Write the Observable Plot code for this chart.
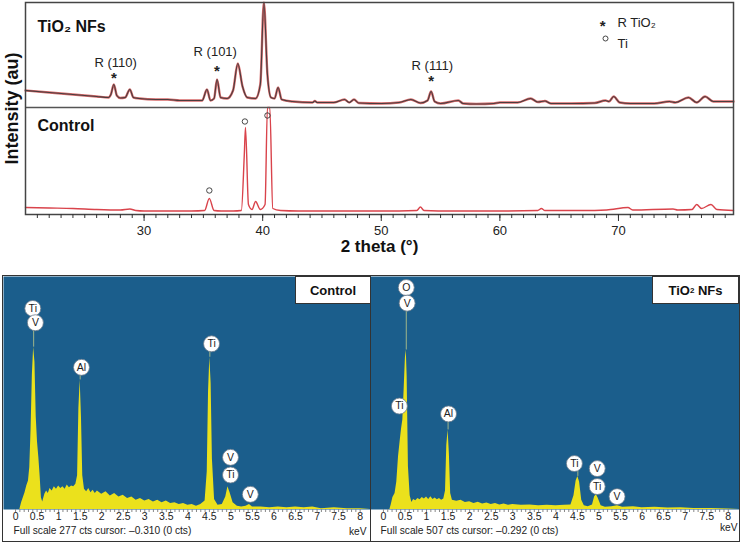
<!DOCTYPE html>
<html><head><meta charset="utf-8">
<script src="https://cdn.jsdelivr.net/npm/d3@7"></script>
<script src="https://cdn.jsdelivr.net/npm/@observablehq/plot@0.6"></script>
<style>
body{margin:0;background:#fff;font-family:"Liberation Sans",Arial,sans-serif;}
#wrap{position:relative;width:740px;height:543px;overflow:hidden;background:#fff;}
.box{position:absolute;background:#fff;border:1px solid #333;box-sizing:border-box;font-weight:bold;font-size:13px;display:flex;align-items:center;justify-content:center;color:#111;white-space:pre;}
.border{position:absolute;border:1.5px solid #333;box-sizing:border-box;pointer-events:none;}
sub{font-size:8px;vertical-align:-2px;}
</style></head><body><div id="wrap"></div>
<script>
// ---------- XRD data (2θ in degrees, intensity in arbitrary units) ----------
const xrdTiO2 = [[20,124],[22,122],[24,120],[26,118],[27.0,117],[27.2,120],[27.45,130],[27.7,119],[28.0,116.5],[28.4,117],[28.8,125],[29.1,117],[29.6,116],[31,115],[32,115],[33,114],[34,114],[34.9,114],[35.3,125],[35.6,114],[35.9,116],[36.15,135],[36.45,117],[37.0,116],[37.5,124],[37.9,151],[38.3,128],[38.7,117],[39.4,116],[39.8,130],[40.1,212],[40.4,140],[40.7,117],[41.0,116],[41.3,127],[41.6,115],[42.5,113],[44.2,112],[44.4,113.5],[44.6,112],[46,112],[46.9,115],[47.3,112],[47.7,115],[48.1,111.5],[50,111],[51.5,112],[52.5,115],[53.3,111.5],[53.9,114],[54.2,123],[54.5,113],[55,111],[56.5,114],[56.9,111],[58,110.5],[59.5,111],[60,112],[61.5,112],[62.6,116],[63.2,112.5],[63.8,113.5],[64.3,111],[66,111],[68,111.5],[68.9,114],[69.2,113],[69.6,118],[70.1,112],[71,111],[73,111],[74.3,113],[74.8,112],[75.9,117],[76.6,112],[77.3,118],[78,113],[79,113],[79.7,113]];
const xrdControl = [[20,7],[22,6.5],[24,6],[26,5],[28,4.5],[28.8,5.5],[29.3,4],[30,3.5],[32,3.5],[34,3.5],[35.1,4],[35.5,16],[35.9,4],[36.5,3.5],[37.5,3.5],[38.2,4],[38.45,60],[38.55,87],[38.8,10],[39.1,5],[39.4,13],[39.8,5],[40.2,10],[40.4,107],[40.6,107],[40.85,6],[41.5,4],[43,3.5],[45,3.5],[50,3.5],[53.0,4],[53.3,7.5],[53.6,4],[56,3.5],[60,3.5],[63.2,4],[63.5,6],[63.8,4],[67,4],[69,4.5],[70.8,7],[71.2,4.5],[74.6,5.5],[75,4.5],[76.2,5],[76.6,10],[77.0,6],[77.8,10],[78.3,5],[79.7,4]];
const xrdPeakLabels = [["R (110)",27.6,152],["R (101)",36.0,163],["R (111)",54.3,149]];
const xrdStars = [[27.45,136],[36.15,143],[54.2,133]];
const xrdTiCircles = [[35.5,24],[38.5,93],[40.4,99]];
const xrdTicks = [30,40,50,60,70];
const xrdPanelSplit = 107;

// ---------- EDS data (keV, counts) ----------
const edsControl = [[-0.28,0],[0.10,0],[0.14,8],[0.18,14],[0.22,20],[0.26,28],[0.30,34],[0.33,50],[0.36,95],[0.39,160],[0.42,193],[0.45,175],[0.48,110],[0.51,80],[0.54,62],[0.57,40],[0.60,14],[0.63,9],[0.68,18],[0.72,22],[0.76,19],[0.80,25],[0.85,22],[0.90,27],[0.95,24],[1.00,28],[1.05,25],[1.10,27],[1.15,24],[1.20,29],[1.25,26],[1.30,28],[1.35,27],[1.40,30],[1.44,40],[1.47,120],[1.50,154],[1.53,110],[1.56,40],[1.60,24],[1.65,21],[1.70,25],[1.75,20],[1.80,23],[1.85,19],[1.90,22],[2.00,18],[2.10,21],[2.20,16],[2.30,19],[2.40,15],[2.50,17],[2.60,13],[2.70,15],[2.80,11],[2.90,13],[3.00,10],[3.10,12],[3.20,9],[3.30,11],[3.40,8],[3.50,10],[3.60,7],[3.70,8],[3.80,6],[3.90,7],[4.00,5],[4.10,6],[4.20,4],[4.30,6],[4.40,10],[4.45,45],[4.48,140],[4.51,181],[4.54,150],[4.57,60],[4.62,12],[4.70,5],[4.80,6],[4.88,15],[4.93,27],[4.98,20],[5.05,8],[5.15,4],[5.25,3],[5.35,4],[5.43,6],[5.50,3],[5.70,3],[5.90,2],[6.10,3],[6.30,2],[6.50,3],[6.70,2],[6.90,3],[7.10,1],[7.40,2],[7.70,1],[8.00,1],[8.24,0]];
const edsTiO2 = [[-0.30,0],[0.15,0],[0.18,10],[0.22,26],[0.27,35],[0.31,60],[0.35,115],[0.39,150],[0.42,175],[0.45,195],[0.48,260],[0.51,330],[0.53,347],[0.55,290],[0.58,93],[0.62,30],[0.66,15],[0.70,22],[0.75,19],[0.80,24],[0.85,21],[0.90,26],[0.95,23],[1.00,27],[1.05,22],[1.10,28],[1.15,22],[1.20,25],[1.25,21],[1.30,24],[1.35,20],[1.40,23],[1.44,40],[1.47,140],[1.50,173],[1.53,120],[1.56,35],[1.60,20],[1.70,18],[1.80,20],[1.90,15],[2.00,17],[2.10,13],[2.20,16],[2.30,12],[2.40,14],[2.50,11],[2.60,13],[2.70,10],[2.80,12],[2.90,9],[3.00,11],[3.20,9],[3.40,10],[3.60,8],[3.80,9],[4.00,8],[4.20,9],[4.35,10],[4.42,30],[4.47,62],[4.51,72],[4.55,60],[4.60,20],[4.66,8],[4.75,6],[4.85,10],[4.90,28],[4.94,32],[4.98,25],[5.05,8],[5.15,5],[5.30,6],[5.43,8],[5.55,5],[5.80,6],[6.00,4],[6.30,5],[6.60,3],[6.90,4],[7.20,2],[7.60,2],[8.00,1],[8.26,0]];
const edsControlLabels = [["Ti",0.40,239],["V",0.46,222],["Al",1.53,169],["Ti",4.55,197],["V",4.99,62],["Ti",4.99,41],["V",5.45,18]];
const edsControlStems = [[0.42,193,222],[1.50,154,169],[4.51,181,197]];
const edsTiO2Labels = [["O",0.53,483],["V",0.55,449],["Ti",0.37,225],["Al",1.51,208],["Ti",4.43,100],["V",4.96,89],["Ti",4.96,50],["V",5.42,28]];
const edsTiO2Stems = [[0.53,347,449],[1.50,173,208],[4.51,72,100],[4.94,32,50]];
const edsTicks = [0,0.5,1,1.5,2,2.5,3,3.5,4,4.5,5,5.5,6,6.5,7,7.5,8];
const edsFullScale = {control: 277, tio2: 507};

// ---------- layout ----------
const font = "'Liberation Sans', Arial, Helvetica, sans-serif";
const wrap = document.getElementById("wrap");
function place(node, left, top) { node.style.position = "absolute"; node.style.left = left + "px"; node.style.top = top + "px"; wrap.appendChild(node); return node; }

const P = a => ({x: a[0], y: a[1]});

const xrd = Plot.plot({
  width: 740, height: 262,
  marginLeft: 25, marginRight: 7, marginTop: 2, marginBottom: 48,
  style: {fontFamily: font, background: "transparent", color: "#222"},
  x: {domain: [20, 79.7], axis: null},
  y: {domain: [0, 212], axis: null},
  marks: [
    Plot.line(xrdControl.map(P), {x: "x", y: "y", stroke: "#d9434b", strokeWidth: 1.4, curve: "monotone-x"}),
    Plot.line(xrdTiO2.map(P), {x: "x", y: "y", stroke: "#d66a6a", strokeWidth: 2.4, curve: "monotone-x"}),
    Plot.line(xrdTiO2.map(P), {x: "x", y: "y", stroke: "#4a3c3e", strokeWidth: 1.1, curve: "monotone-x"}),
    Plot.ruleY([xrdPanelSplit], {stroke: "#555", strokeWidth: 1.5}),
    Plot.frame({stroke: "#444", strokeWidth: 1.5}),
    Plot.axisX({ticks: d3.range(21, 80, 1), tickSize: 4, tickFormat: () => "", stroke: "#333", label: null}),
    Plot.axisX({ticks: xrdTicks, tickSize: 7, tickPadding: 4, fontSize: 13, stroke: "#333", label: null}),
    Plot.text(xrdPeakLabels.map(d => ({t: d[0], x: d[1], y: d[2]})), {x: "x", y: "y", text: "t", fontSize: 13, fill: "#222"}),
    Plot.text(xrdStars.map(P), {x: "x", y: "y", text: () => "*", fontSize: 15, fill: "#222", fontWeight: "bold"}),
    Plot.dot(xrdTiCircles.map(P), {x: "x", y: "y", r: 2.7, stroke: "#333", strokeWidth: 0.9}),
    Plot.text(["TiO₂ NFs"], {frameAnchor: "top-left", dx: 12, dy: 18, textAnchor: "start", fontSize: 16, fontWeight: "bold", fill: "#111"}),
    Plot.text(["Control"], {frameAnchor: "left", dx: 12, dy: 17, textAnchor: "start", fontSize: 16, fontWeight: "bold", fill: "#111"}),
    Plot.text(["*"], {frameAnchor: "top-right", dx: -128, dy: 18, fontSize: 15, fontWeight: "bold", fill: "#222"}),
    Plot.text(["R TiO₂"], {frameAnchor: "top-right", dx: -116, dy: 15, textAnchor: "start", fontSize: 13, fill: "#222"}),
    Plot.dot([0], {frameAnchor: "top-right", dx: -128, dy: 36, r: 2.5, stroke: "#333", strokeWidth: 0.9}),
    Plot.text(["Ti"], {frameAnchor: "top-right", dx: -116, dy: 36, textAnchor: "start", fontSize: 13, fill: "#222"}),
    Plot.text(["Intensity (au)"], {frameAnchor: "left", dx: -13, rotate: -90, textAnchor: "middle", fontSize: 18, fontWeight: "bold", fill: "#111"}),
    Plot.text(["2 theta (°)"], {frameAnchor: "bottom", dy: 37, fontSize: 17, fontWeight: "bold", fill: "#111"})
  ]
});
place(xrd, 0, 0);

function eds(spec, labels, stems, full, domain, ml, mr, caption, kevDx, kevDy) {
  return Plot.plot({
    width: 370, height: 268,
    marginTop: 1, marginBottom: 34, marginLeft: ml, marginRight: mr,
    style: {fontFamily: font, background: "transparent", color: "#222"},
    x: {domain, axis: null}, y: {domain: [0, full], axis: null},
    marks: [
      Plot.frame({fill: "#1b5e8c"}),
      Plot.areaY(spec.map(P), {x: "x", y: "y", fill: "#ebe11c"}),
      Plot.ruleX(stems.map(d => ({x: d[0], y1: d[1], y2: d[2]})), {x: "x", y1: "y1", y2: "y2", stroke: "#9fb58a", strokeWidth: 1}),
      Plot.dot(labels.map(d => ({t: d[0], x: d[1], y: d[2]})), {x: "x", y: "y", r: 8, fill: "#fff", stroke: "#6a7a8a", strokeWidth: 0.8}),
      Plot.text(labels.map(d => ({t: d[0], x: d[1], y: d[2]})), {x: "x", y: "y", text: "t", fontSize: 10.5, fill: "#222"}),
      Plot.axisX({ticks: d3.range(0, 8.05, 0.1), tickSize: 3, tickFormat: () => "", stroke: "#888", label: null}),
      Plot.axisX({ticks: edsTicks, tickSize: 0, tickPadding: 3, fontSize: 10.5, tickFormat: d => String(d), label: null}),
      Plot.text([caption], {frameAnchor: "bottom-left", dx: 10, dy: 24, textAnchor: "start", fontSize: 10.2, fill: "#222"}),
      Plot.text(["keV"], {frameAnchor: "bottom-right", dx: kevDx, dy: kevDy, textAnchor: "end", fontSize: 10.2, fill: "#222"})
    ]
  });
}
const edsL = eds(edsControl, edsControlLabels, edsControlStems, edsFullScale.control, [-0.28, 8.24], 3, 0, "Full scale 277 cts cursor: \u20130.310 (0 cts)", -4, 25);
place(edsL, 0, 275);
const edsR = eds(edsTiO2, edsTiO2Labels, edsTiO2Stems, edsFullScale.tio2, [-0.30, 8.26], 0, 1, "Full scale 507 cts cursor: \u20130.292 (0 cts)", -2, 21);
place(edsR, 370, 275);

const b1 = document.createElement("div"); b1.className = "border"; b1.style.width = "369px"; b1.style.height = "267px"; place(b1, 2, 275);
const b2 = document.createElement("div"); b2.className = "border"; b2.style.width = "370px"; b2.style.height = "267px"; place(b2, 370, 275);
const t1 = document.createElement("div"); t1.className = "box"; t1.style.width = "76px"; t1.style.height = "28px"; t1.textContent = "Control"; place(t1, 295, 276);
const t2 = document.createElement("div"); t2.className = "box"; t2.style.width = "87px"; t2.style.height = "28px"; t2.innerHTML = "TiO<sub>2</sub>&nbsp;NFs"; place(t2, 652, 276);
</script>
</body></html>
